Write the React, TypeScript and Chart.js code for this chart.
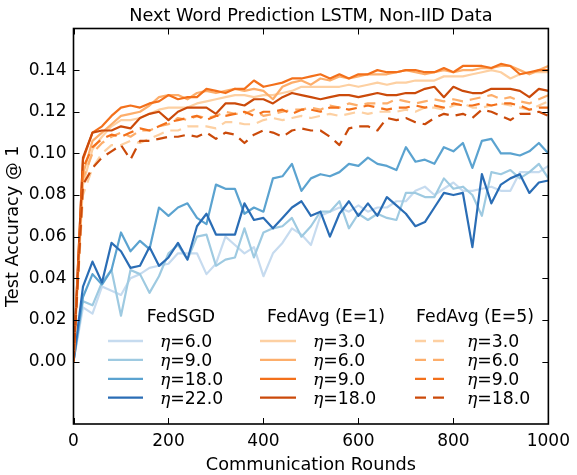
import React, { useEffect, useRef } from "react";
import { Chart, registerables } from "chart.js";

Chart.register(...registerables);

// communication rounds (x), one sample every 20 rounds
const rounds = [
  0, 20, 40, 60, 80, 100, 120, 140, 160, 180, 200, 220, 240, 260, 280, 300, 320, 340, 360, 380,
  400, 420, 440, 460, 480, 500, 520, 540, 560, 580, 600, 620, 640, 660, 680, 700, 720, 740, 760, 780,
  800, 820, 840, 860, 880, 900, 920, 940, 960, 980, 1000,
];

// FedSGD
const sgd6 = [
  0, 0.026, 0.023, 0.036, 0.034, 0.032, 0.04, 0.042, 0.045, 0.046,
  0.047, 0.052, 0.052, 0.052, 0.042, 0.047, 0.06, 0.056, 0.052, 0.055,
  0.041, 0.052, 0.057, 0.064, 0.061, 0.056, 0.07, 0.072, 0.074, 0.072,
  0.075, 0.072, 0.074, 0.074, 0.077, 0.077, 0.082, 0.084, 0.08, 0.083,
  0.086, 0.082, 0.082, 0.083, 0.084, 0.082, 0.082, 0.091, 0.091, 0.091,
  0.094,
];
const sgd9 = [
  0, 0.029, 0.027, 0.038, 0.044, 0.022, 0.044, 0.042, 0.033, 0.041,
  0.052, 0.056, 0.049, 0.06, 0.061, 0.046, 0.049, 0.05, 0.064, 0.05,
  0.062, 0.064, 0.065, 0.069, 0.06, 0.065, 0.072, 0.072, 0.077, 0.064,
  0.071, 0.068, 0.071, 0.069, 0.068, 0.081, 0.081, 0.079, 0.079, 0.088,
  0.083, 0.084, 0.08, 0.07, 0.091, 0.09, 0.092, 0.088, 0.091, 0.095,
  0.088,
];
const sgd18 = [
  0, 0.031, 0.042, 0.037, 0.044, 0.062, 0.053, 0.058, 0.054, 0.074,
  0.07, 0.074, 0.076, 0.069, 0.066, 0.085, 0.083, 0.083, 0.071, 0.074,
  0.072, 0.088, 0.089, 0.095, 0.082, 0.088, 0.09, 0.089, 0.091, 0.095,
  0.094, 0.098, 0.095, 0.094, 0.092, 0.103, 0.096, 0.097, 0.095, 0.103,
  0.101, 0.105, 0.093, 0.106, 0.107, 0.1, 0.1, 0.099, 0.101, 0.105,
  0.1,
];
const sgd22 = [
  0, 0.036, 0.048, 0.038, 0.057, 0.053, 0.045, 0.046, 0.055, 0.046,
  0.05, 0.057, 0.049, 0.065, 0.071, 0.061, 0.061, 0.061, 0.076, 0.068,
  0.069, 0.064, 0.069, 0.074, 0.077, 0.07, 0.072, 0.06, 0.071, 0.077,
  0.07, 0.076, 0.07, 0.079, 0.075, 0.071, 0.065, 0.067, 0.074, 0.081,
  0.08, 0.081, 0.055, 0.09, 0.076, 0.085, 0.088, 0.09, 0.081, 0.086,
  0.087,
];

// FedAvg (E=1)
const avg1_3 = [
  0, 0.085, 0.102, 0.108, 0.113, 0.116, 0.116, 0.117, 0.119, 0.121,
  0.122, 0.122, 0.122, 0.124, 0.125, 0.126, 0.127, 0.128, 0.128, 0.127,
  0.128, 0.128, 0.129, 0.13, 0.132, 0.132, 0.132, 0.132, 0.132, 0.133,
  0.132, 0.133, 0.134, 0.133, 0.134, 0.134, 0.135, 0.135, 0.135, 0.137,
  0.137, 0.137, 0.138, 0.139, 0.14, 0.139, 0.136, 0.138, 0.139, 0.139,
  0.139,
];
const avg1_6 = [
  0, 0.09, 0.106, 0.11, 0.114, 0.118, 0.119, 0.12, 0.123, 0.127,
  0.128, 0.128, 0.126, 0.129, 0.13, 0.129, 0.13, 0.131, 0.13, 0.131,
  0.13, 0.126, 0.132, 0.134, 0.135, 0.133, 0.136, 0.135, 0.137, 0.136,
  0.137, 0.138, 0.138, 0.138, 0.139, 0.14, 0.139, 0.138, 0.139, 0.14,
  0.139, 0.14, 0.14, 0.141, 0.141, 0.142, 0.142, 0.14, 0.138, 0.14,
  0.142,
];
const avg1_9 = [
  0, 0.097, 0.11, 0.113, 0.118, 0.122, 0.123, 0.122, 0.124, 0.125,
  0.128, 0.126, 0.127, 0.127, 0.131, 0.13, 0.129, 0.131, 0.131, 0.135,
  0.132, 0.133, 0.134, 0.136, 0.136, 0.137, 0.138, 0.136, 0.138, 0.136,
  0.138, 0.138, 0.14, 0.139, 0.139, 0.14, 0.14, 0.139, 0.139, 0.141,
  0.139, 0.142, 0.142, 0.142, 0.141, 0.143, 0.142, 0.138, 0.139, 0.14,
  0.14,
];
const avg1_18 = [
  0, 0.098, 0.11, 0.111, 0.111, 0.113, 0.112, 0.117, 0.119, 0.12,
  0.116, 0.12, 0.122, 0.122, 0.122, 0.119, 0.124, 0.124, 0.123, 0.126,
  0.126, 0.124, 0.127, 0.129, 0.128, 0.127, 0.126, 0.127, 0.128, 0.128,
  0.127, 0.128, 0.129, 0.128, 0.128, 0.129, 0.129, 0.131, 0.132, 0.127,
  0.132, 0.13, 0.129, 0.129, 0.131, 0.131, 0.131, 0.13, 0.127, 0.131,
  0.13,
];

// FedAvg (E=5)
const avg5_3 = [
  0, 0.08, 0.093, 0.1, 0.104, 0.104, 0.106, 0.105, 0.107, 0.109,
  0.111, 0.111, 0.113, 0.113, 0.113, 0.112, 0.115, 0.115, 0.114, 0.114,
  0.116, 0.117, 0.116, 0.117, 0.118, 0.117, 0.118, 0.119, 0.118, 0.119,
  0.12, 0.119, 0.12, 0.12, 0.12, 0.121, 0.12, 0.122, 0.122, 0.121,
  0.123, 0.124, 0.122, 0.122, 0.123, 0.124, 0.123, 0.122, 0.121, 0.123,
  0.125,
];
const avg5_6 = [
  0, 0.088, 0.1, 0.105, 0.108, 0.11, 0.108, 0.111, 0.111, 0.113,
  0.114, 0.117, 0.116, 0.118, 0.117, 0.118, 0.12, 0.119, 0.119, 0.121,
  0.118, 0.119, 0.12, 0.121, 0.121, 0.122, 0.121, 0.123, 0.122, 0.124,
  0.123, 0.124, 0.124, 0.124, 0.126, 0.125, 0.124, 0.125, 0.126, 0.125,
  0.126, 0.125, 0.126, 0.127, 0.128, 0.126, 0.127, 0.125, 0.124, 0.126,
  0.128,
];
const avg5_9 = [
  0, 0.093, 0.103, 0.107, 0.109, 0.108, 0.11, 0.112, 0.111, 0.113,
  0.115, 0.116, 0.117, 0.118, 0.116, 0.118, 0.118, 0.119, 0.12, 0.118,
  0.12, 0.12, 0.121, 0.119, 0.121, 0.121, 0.12, 0.122, 0.122, 0.121,
  0.122, 0.123, 0.122, 0.121, 0.122, 0.122, 0.123, 0.122, 0.123, 0.122,
  0.124, 0.123, 0.123, 0.124, 0.123, 0.124, 0.124, 0.123, 0.121, 0.122,
  0.122,
];
const avg5_18 = [
  0, 0.085, 0.093, 0.098, 0.101, 0.104, 0.097, 0.106, 0.106, 0.107,
  0.108, 0.108, 0.109, 0.108, 0.11, 0.107, 0.11, 0.109, 0.105, 0.109,
  0.111, 0.11, 0.108, 0.111, 0.112, 0.111, 0.111, 0.108, 0.104, 0.112,
  0.113, 0.113, 0.111, 0.117, 0.116, 0.117, 0.115, 0.114, 0.117, 0.119,
  0.118, 0.119, 0.117, 0.121, 0.12, 0.118, 0.116, 0.119, 0.119, 0.12,
  0.118,
];

const xTicks = [0, 200, 400, 600, 800, 1000];
const yTicks = [0, 0.02, 0.04, 0.06, 0.08, 0.1, 0.12, 0.14];

const FONT = "'DejaVu Sans', sans-serif";

type Series = { eta: string; data: number[]; color: string; dashed: boolean };
type Group = { title: string; series: Series[] };

const groups: Group[] = [
  {
    title: "FedSGD",
    series: [
      { eta: "6.0", data: sgd6, color: "#c6dbef", dashed: false },
      { eta: "9.0", data: sgd9, color: "#9ecae1", dashed: false },
      { eta: "18.0", data: sgd18, color: "#5ba3d0", dashed: false },
      { eta: "22.0", data: sgd22, color: "#2a6db5", dashed: false },
    ],
  },
  {
    title: "FedAvg (E=1)",
    series: [
      { eta: "3.0", data: avg1_3, color: "#fdd0a2", dashed: false },
      { eta: "6.0", data: avg1_6, color: "#fdae6b", dashed: false },
      { eta: "9.0", data: avg1_9, color: "#f3701b", dashed: false },
      { eta: "18.0", data: avg1_18, color: "#cb4a0a", dashed: false },
    ],
  },
  {
    title: "FedAvg (E=5)",
    series: [
      { eta: "3.0", data: avg5_3, color: "#fdd0a2", dashed: true },
      { eta: "6.0", data: avg5_6, color: "#fdae6b", dashed: true },
      { eta: "9.0", data: avg5_9, color: "#f3701b", dashed: true },
      { eta: "18.0", data: avg5_18, color: "#cb4a0a", dashed: true },
    ],
  },
];

// legend column layout: title centre, sample line start/end, label start
const legendCols = [
  { cx: 181, x0: 108, x1: 143, tx: 160 },
  { cx: 326, x0: 260, x1: 296, tx: 313 },
  { cx: 475, x0: 415, x1: 451, tx: 467 },
];
const DASH = [11, 7];

const decor = {
  id: "decor",
  afterDraw(chart: any) {
    const { ctx, chartArea: a, scales } = chart;
    ctx.save();

    // inward ticks on all four sides
    ctx.strokeStyle = "#000";
    ctx.lineWidth = 1;
    ctx.beginPath();
    yTicks.forEach((v) => {
      const y = Math.round(scales.y.getPixelForValue(v)) + 0.5;
      ctx.moveTo(a.left, y);
      ctx.lineTo(a.left + 6, y);
      ctx.moveTo(a.right, y);
      ctx.lineTo(a.right - 6, y);
    });
    xTicks.forEach((v) => {
      const x = Math.round(scales.x.getPixelForValue(v)) + 0.5;
      ctx.moveTo(x, a.bottom);
      ctx.lineTo(x, a.bottom - 6);
      ctx.moveTo(x, a.top);
      ctx.lineTo(x, a.top + 6);
    });
    ctx.stroke();

    // frame
    ctx.lineWidth = 1.6;
    ctx.strokeRect(a.left, a.top, a.right - a.left, a.bottom - a.top);

    // titles
    const cx = (a.left + a.right) / 2;
    ctx.fillStyle = "#000";
    ctx.textAlign = "center";
    ctx.textBaseline = "alphabetic";
    ctx.font = `17.7px ${FONT}`;
    ctx.fillText("Next Word Prediction LSTM, Non-IID Data", cx, 20.5);
    ctx.fillText("Communication Rounds", cx, 470);
    ctx.save();
    ctx.translate(17.5, (a.top + a.bottom) / 2);
    ctx.rotate(-Math.PI / 2);
    ctx.fillText("Test Accuracy @ 1", 0, 0);
    ctx.restore();

    // grouped legend
    groups.forEach((g, gi) => {
      const col = legendCols[gi];
      ctx.font = `17.3px ${FONT}`;
      ctx.textAlign = "center";
      ctx.fillStyle = "#000";
      ctx.fillText(g.title, col.cx, 322);
      g.series.forEach((s, si) => {
        const y = 341 + si * 18.9;
        ctx.strokeStyle = s.color;
        ctx.lineWidth = 2.3;
        ctx.lineCap = "butt";
        ctx.setLineDash(s.dashed ? DASH : []);
        ctx.beginPath();
        ctx.moveTo(col.x0, y);
        ctx.lineTo(col.x1, y);
        ctx.stroke();
        ctx.setLineDash([]);
        ctx.textAlign = "left";
        ctx.fillStyle = "#000";
        ctx.font = `italic 17.3px 'DejaVu Serif', serif`;
        ctx.fillText("η", col.tx, y + 6);
        const w = ctx.measureText("η").width;
        ctx.font = `17.3px ${FONT}`;
        ctx.fillText("=" + s.eta, col.tx + w, y + 6);
      });
    });

    ctx.restore();
  },
};

export default function App() {
  const chartRef = useRef<HTMLCanvasElement | null>(null);
  const chartInstance = useRef<Chart | null>(null);

  useEffect(() => {
    if (!chartRef.current) return;
    if (chartInstance.current) chartInstance.current.destroy();
    const ctx = chartRef.current.getContext("2d");
    if (!ctx) return;

    const all = groups.flatMap((g) => g.series);
    const n = all.length;

    chartInstance.current = new Chart(ctx, {
      type: "line",
      data: {
        datasets: all.map((s, i) => ({
          label: s.eta,
          data: s.data.map((v, j) => ({ x: rounds[j], y: v })),
          borderColor: s.color,
          backgroundColor: s.color,
          borderWidth: 2.2,
          borderDash: s.dashed ? DASH : [],
          borderCapStyle: "butt",
          borderJoinStyle: "round",
          pointRadius: 0,
          tension: 0,
          fill: false,
          order: n - i,
        })),
      },
      options: {
        responsive: false,
        animation: false,
        events: [],
        layout: { padding: { left: 0, top: 28.5, right: 24, bottom: 0 } },
        plugins: {
          legend: { display: false },
          title: { display: false },
          tooltip: { enabled: false },
        },
        scales: {
          x: {
            type: "linear",
            min: 0,
            max: 1000,
            grid: { display: false, drawTicks: false },
            border: { display: false },
            ticks: {
              stepSize: 200,
              padding: 7,
              maxRotation: 0,
              autoSkip: false,
              color: "#000",
              font: { family: FONT, size: 17 },
              callback: (v: any) => String(Math.round(Number(v))),
            },
            afterFit: (s: any) => {
              s.height = 51;
            },
          },
          y: {
            min: -0.03,
            max: 0.16,
            grid: { display: false, drawTicks: false },
            border: { display: false },
            ticks: {
              stepSize: 0.02,
              padding: 7,
              autoSkip: false,
              color: "#000",
              font: { family: FONT, size: 17 },
              callback: (v: any) => {
                const r = Math.round(Number(v) * 100) / 100;
                if (r < 0 || r > 0.14) return "";
                return r.toFixed(2);
              },
            },
            afterFit: (s: any) => {
              s.width = 73.5;
            },
          },
        },
      },
      plugins: [decor],
    });

    return () => {
      if (chartInstance.current) chartInstance.current.destroy();
    };
  }, []);

  return (
    <div style={{ position: "fixed", left: 0, top: 0, width: 577, height: 475, background: "#fff" }}>
      <canvas ref={chartRef} width={577} height={475} style={{ width: 577, height: 475 }} />
    </div>
  );
}
